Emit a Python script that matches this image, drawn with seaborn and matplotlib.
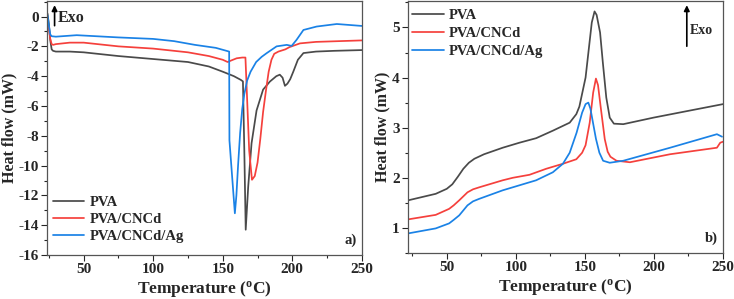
import numpy as np
import pandas as pd
import matplotlib
matplotlib.use("Agg")
import matplotlib.pyplot as plt
import seaborn as sns
from matplotlib.ticker import MultipleLocator

# --- datos panel a) (fusion) ---
a_pva_t = [24, 25, 26, 27, 28, 30, 40, 50, 75, 100, 125, 140, 150, 158, 163, 164.5, 165.5, 166.5,
           168.3, 170.7, 174.3, 179, 183.9, 188.5, 191, 193, 194.7, 196.5, 198.5, 200.7, 204, 208,
           217, 230, 250]
a_pva_hf = [0.2, -0.5, -1.6, -2.2, -2.3, -2.35, -2.35, -2.4, -2.65, -2.85, -3.05, -3.35, -3.7, -4.0,
            -4.25, -4.35, -9.0, -14.3, -11.4, -8.5, -6.3, -4.9, -4.36, -4.0, -3.9, -4.1, -4.65, -4.5,
            -4.2, -3.7, -2.9, -2.45, -2.35, -2.3, -2.25]

a_cncd_t = [24, 25, 26, 27, 28, 30, 40, 50, 75, 100, 125, 140, 150, 153.5, 156, 160, 164, 166.3,
            167.5, 169, 171, 173, 175, 177, 179, 181, 183, 185, 187, 190, 195, 198, 201, 205.5,
            217, 250]
a_cncd_hf = [-0.4, -0.8, -1.5, -1.85, -1.9, -1.85, -1.75, -1.75, -2.0, -2.15, -2.4, -2.65, -2.9,
             -3.05, -2.95, -2.8, -2.75, -2.75, -5.5, -9.0, -10.95, -10.7, -9.8, -8.2, -6.4, -5.0,
             -3.7, -2.9, -2.5, -2.35, -2.2, -2.05, -1.95, -1.8, -1.7, -1.6]

a_ag_t = [24, 25, 26, 27, 30, 45, 75, 100, 115, 130, 145, 154.6, 154.8, 158.7, 159.8, 161, 162.5,
          164, 165.5, 167.5, 170, 174, 178, 181.5, 188.7, 196, 199.5, 203, 208, 217.5, 232, 250]
a_ag_hf = [0.1, -0.6, -1.2, -1.32, -1.35, -1.25, -1.4, -1.5, -1.65, -1.9, -2.1, -2.35, -8.3, -13.2,
           -12.0, -10.0, -7.8, -6.2, -5.2, -4.3, -3.7, -3.05, -2.7, -2.46, -2.0, -1.9, -1.97, -1.57,
           -0.9, -0.67, -0.5, -0.63]

# --- datos panel b) (cristalizacion) ---
b_pva_t = [22, 42, 50, 54, 58, 62, 66, 70, 77, 90.5, 102.6, 114.7, 126.8, 139, 143.8, 146, 150.5,
           155, 157, 158.5, 161, 163, 165.5, 168, 171, 177.8, 199.6, 223.8, 250]
b_pva_hf = [1.55, 1.68, 1.78, 1.87, 2.02, 2.18, 2.3, 2.38, 2.47, 2.6, 2.7, 2.79, 2.94, 3.1, 3.27,
            3.42, 4.0, 5.1, 5.32, 5.25, 4.9, 4.3, 3.6, 3.2, 3.08, 3.07, 3.2, 3.33, 3.47]

b_cncd_t = [22, 42, 51.7, 55, 59, 62, 65, 69, 73.5, 90.5, 97.8, 109.9, 122, 134.1, 143.8, 148,
            150.5, 153.5, 156, 158, 159.5, 161.5, 164.4, 166.5, 168.5, 172.9, 182.6, 211.7, 245.6,
            248, 250]
b_cncd_hf = [1.17, 1.26, 1.38, 1.45, 1.55, 1.63, 1.71, 1.77, 1.81, 1.95, 2.0, 2.06, 2.18, 2.28,
             2.37, 2.5, 2.65, 3.1, 3.7, 3.98, 3.85, 3.4, 2.77, 2.52, 2.42, 2.34, 2.31, 2.47, 2.6,
             2.7, 2.72]

b_ag_t = [22, 42, 51.7, 55, 59, 62, 65, 69, 73.5, 90.5, 102.6, 114.7, 126.8, 134.1, 139, 144, 148,
          150.5, 152.5, 154, 156, 158, 160.5, 163.2, 168, 177.8, 211.7, 245.6, 249.3]
b_ag_hf = [0.89, 0.99, 1.09, 1.16, 1.25, 1.35, 1.45, 1.53, 1.58, 1.75, 1.85, 1.95, 2.11, 2.28,
           2.5, 2.9, 3.3, 3.47, 3.5, 3.38, 3.08, 2.78, 2.5, 2.34, 2.3, 2.34, 2.6, 2.87, 2.82]

labels = ["PVA", "PVA/CNCd", "PVA/CNCd/Ag"]
colors = ["#4a4a4a", "#f5403c", "#1a82e6"]


def make_df(series):
    parts = []
    for lab, (t, hf) in zip(labels, series):
        parts.append(pd.DataFrame({"T": t, "HF": hf, "muestra": lab}))
    return pd.concat(parts, ignore_index=True)


df_a = make_df([(a_pva_t, a_pva_hf), (a_cncd_t, a_cncd_hf), (a_ag_t, a_ag_hf)])
df_b = make_df([(b_pva_t, b_pva_hf), (b_cncd_t, b_cncd_hf), (b_ag_t, b_ag_hf)])

sns.set_style("ticks")
plt.rcParams["font.family"] = ["Liberation Serif", "DejaVu Serif"]
plt.rcParams["font.weight"] = "bold"
plt.rcParams["axes.unicode_minus"] = False
plt.rcParams["mathtext.fontset"] = "custom"
plt.rcParams["mathtext.rm"] = "Liberation Serif"
plt.rcParams["mathtext.bf"] = "Liberation Serif:bold"

fig = plt.figure(figsize=(7.34, 2.99), dpi=100)
ax_a = fig.add_axes([0.0647, 0.147, 0.4283, 0.850])
ax_b = fig.add_axes([0.556, 0.154, 0.429, 0.843])

pal = dict(zip(labels, colors))
for ax, df in [(ax_a, df_a), (ax_b, df_b)]:
    sns.lineplot(data=df, x="T", y="HF", hue="muestra", palette=pal, sort=False,
                 estimator=None, linewidth=1.25, ax=ax)
    ax.set_xlim(24 if ax is ax_a else 22, 250)
    ax.xaxis.set_major_locator(MultipleLocator(50))
    ax.xaxis.set_minor_locator(MultipleLocator(25))
    ax.set_xlabel("Temperature ($\\mathbf{^o}$C)", fontsize=12.5, fontweight="bold", labelpad=2)
    ax.set_ylabel("Heat flow (mW)", fontsize=11.5, fontweight="bold", labelpad=1)
    ax.tick_params(axis="both", which="major", direction="out", length=4.5, width=0.8,
                   labelsize=11, pad=1.5)
    ax.tick_params(axis="both", which="minor", direction="out", length=2, width=0.8)
    for lbl in ax.get_xticklabels() + ax.get_yticklabels():
        lbl.set_fontweight("bold")
    for sp in ax.spines.values():
        sp.set_color("#555555")
        sp.set_linewidth(0.9)
        sp.set_visible(True)

# panel a
ax_a.set_ylim(-16, 1.05)
ax_a.yaxis.set_major_locator(MultipleLocator(2))
ax_a.yaxis.set_minor_locator(MultipleLocator(1))
ax_a.legend(loc="lower left", frameon=False, handlelength=2.1,
            handletextpad=0.4, labelspacing=0.25, borderaxespad=0.0,
            bbox_to_anchor=(0.0, 0.025), prop={"weight": "bold", "size": 10.5})
ax_a.annotate("", xy=(29.1, 0.95), xytext=(29.1, -0.8),
              arrowprops=dict(arrowstyle="-|>", color="black", lw=1.2, mutation_scale=8))
ax_a.text(31.3, -0.1, "Exo", fontsize=11.5, fontweight="bold", va="center", ha="left")
ax_a.text(0.985, 0.03, "a)", transform=ax_a.transAxes, fontsize=10.5, fontweight="bold",
          ha="right", va="bottom")

# panel b
ax_b.set_ylim(0.5, 5.53)
ax_b.yaxis.set_major_locator(MultipleLocator(1))
ax_b.yaxis.set_minor_locator(MultipleLocator(0.5))
ax_b.legend(loc="upper left", frameon=False, handlelength=2.2,
            handletextpad=0.3, labelspacing=0.3, borderaxespad=0.0,
            bbox_to_anchor=(-0.005, 0.99), prop={"weight": "bold", "size": 10.5})
ax_b.annotate("", xy=(223.8, 5.5), xytext=(223.8, 4.57),
              arrowprops=dict(arrowstyle="-|>", color="black", lw=1.2, mutation_scale=8))
ax_b.text(225.8, 4.93, "Exo", fontsize=10, fontweight="bold", va="center", ha="left")
ax_b.text(0.985, 0.03, "b)", transform=ax_b.transAxes, fontsize=10.5, fontweight="bold",
          ha="right", va="bottom")

fig.savefig("out.png", dpi=100)
